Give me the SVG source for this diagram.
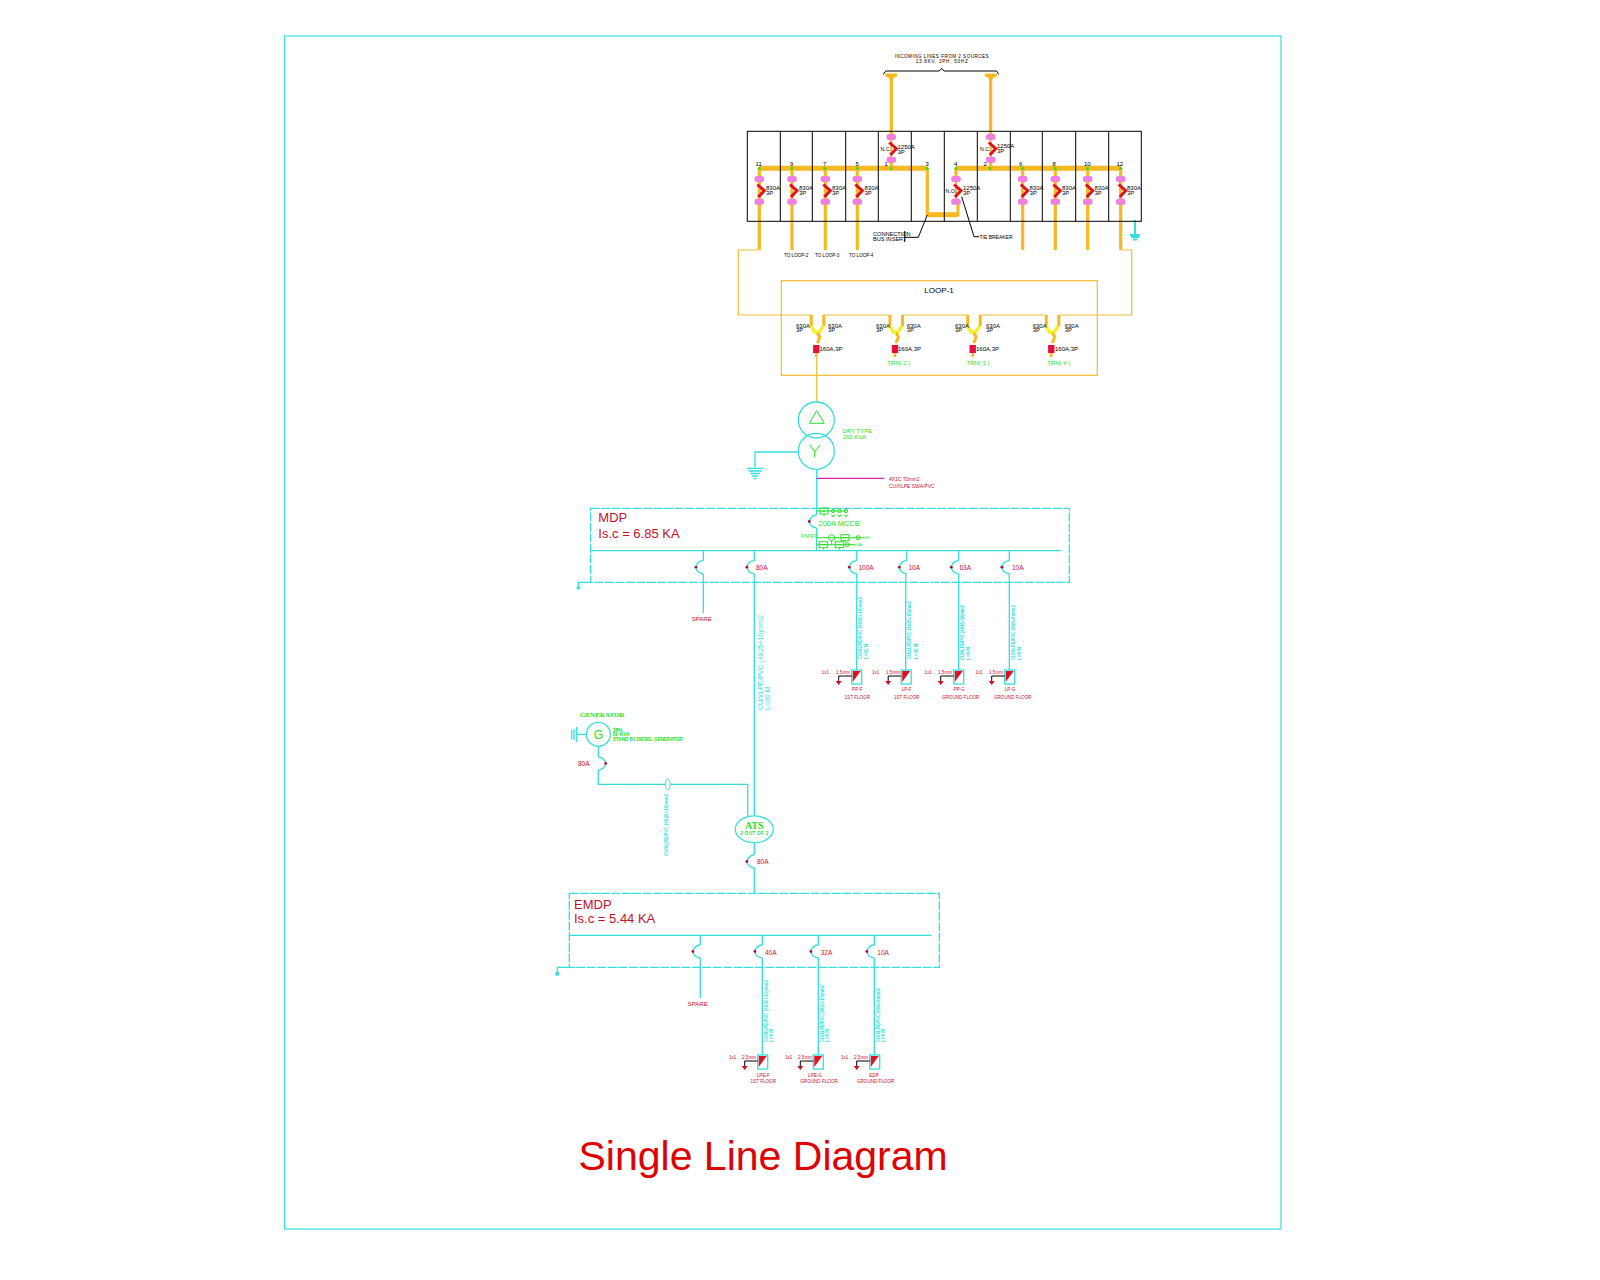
<svg xmlns="http://www.w3.org/2000/svg" width="1600" height="1280" viewBox="0 0 1600 1280">
<style>
text{font-family:"Liberation Sans",Arial,sans-serif;white-space:pre}
.c{fill:none;stroke:#35dede;stroke-width:1.3}
.d{fill:none;stroke:#35dede;stroke-width:1.3;stroke-dasharray:9 1.5}
.o{fill:none;stroke:#f5b921;stroke-width:3.2}
.ot{fill:none;stroke:#f0bc30;stroke-width:1.2}
.k{fill:none;stroke:#000;stroke-width:1}
.g{fill:none;stroke:#22e022;stroke-width:1}
.bk{fill:#000;font-size:6px}
.bs{fill:#000;font-size:4.6px}
.rd{fill:#c8102e;font-size:6.5px}
.rs{fill:#c8102e;font-size:4.6px}
.gr{fill:#22e022;font-size:6px}
.cy{fill:#35dede;font-size:4.5px;font-weight:bold}
.big{fill:#c8102e;font-size:13px}
.m{text-anchor:middle}
</style>
<defs>
<g id="mvb">
<path d="M0,0V23" fill="none" stroke="#f5b921" stroke-width="2"/>
<rect x="-4.8" y="-3" width="9.6" height="6" rx="2.5" fill="#f080e0"/>
<rect x="-4.8" y="19.7" width="9.6" height="6" rx="2.5" fill="#f080e0"/>
<path d="M-2,5.5L5,11.7L-1,18" fill="none" stroke="#e01020" stroke-width="3"/>
</g>
<g id="capY"><path d="M-6,-2H6M-5,-2Q-1,-1 0,2Q1,-1 5,-2" fill="none" stroke="#f5b921" stroke-width="3"/></g>
<g id="rmu">
<path d="M-6,0V11M6.5,0V11" fill="none" stroke="#f5b921" stroke-width="3"/>
<path d="M-6,11L-3,17H2L6,11" fill="none" stroke="#f8ee30" stroke-width="3.4"/>
<path d="M0,18L2.5,22L0,28" fill="none" stroke="#f5b921" stroke-width="3"/>
<rect x="-4.2" y="30" width="6.4" height="8" fill="#e8103a"/>
<path d="M-1,38V42" fill="none" stroke="#f5b921" stroke-width="2.5"/>
</g>
<g id="arcL"><path class="c" d="M0,0A7.2,6.5 0 0 0 0,13"/><circle cx="-7.4" cy="6.5" r="1.4" fill="#a01040"/></g>
<g id="arcR"><path class="c" d="M0,0A7.2,6.5 0 0 1 0,13"/><circle cx="7.4" cy="6.5" r="1.4" fill="#c01030"/></g>
<g id="pnl">
<path d="M1,1H9L1,12Z" fill="#e01020"/>
<rect x="0" y="0" width="10" height="14" class="c"/>
<path class="k" d="M0,6H-13V11"/>
<path d="M-16,11H-10L-13,15Z" fill="#d01020"/>
</g>
<g id="grnBox"><rect x="-4" y="-3" width="8" height="6" class="g"/><path class="g" d="M-2,0H2M0,3V5"/></g>
<g id="gTop"><circle cx="0" cy="0" r="1.6" class="g"/><path class="g" d="M-1.5,3.5L0,6L1.5,3.5"/></g>
</defs>

<g id="frame"><rect x="284.5" y="36" width="996.5" height="1193" fill="none" stroke="#35dede" stroke-width="1.2"/></g>

<g id="connectors">
<path class="o" d="M891.3,76V137M990.7,76V137"/>
<path d="M759,168.3H927.3M956,168.3H1121" fill="none" stroke="#f5b921" stroke-width="5"/>
<path class="o" d="M927.3,168V214.7H958V201" stroke-width="3.4"/>
<path d="M928,214.7H958" fill="none" stroke="#f5b921" stroke-width="5"/>
<path class="o" d="M759.3,168V250M792,168V250M825.3,168V250M857.3,168V250M1022.7,168V250M1055.3,168V250M1087.7,168V250M1120.7,168V250M956,168V180M891.3,160V168M990.7,160V168"/>
<path class="ot" d="M759.3,250H738.3V315H811.3M823.3,315H889.3M902.7,315H967.3M980,315H1046M1058.7,315H1131.7V250H1120.7M816.7,357V402"/>
<path class="k" d="M904.7,231V242M904.7,237.3H918.3L927.3,215"/>
<path class="k" d="M961.7,196.7L974,236.7H979"/>
<path d="M1135,220V236" fill="none" stroke="#35dede" stroke-width="2"/>
<path class="c" d="M798.3,452H755V467.3"/>
<path class="c" d="M816.7,469.3V515M816.7,528V550.7"/>
<path d="M816.7,478.3H884" fill="none" stroke="#d020c0" stroke-width="1.2"/>
<path class="c" d="M703.3,550.7V560.7M703.3,573.7V613.3"/>
<path class="c" d="M754.3,550.7V560.7M754.3,573.7V816"/>
<path class="c" d="M856.7,550.7V560.7M856.7,573.7V670"/>
<path class="c" d="M906.7,550.7V560.7M905.7,573.7V670"/>
<path class="c" d="M958.7,550.7V560.7M958.7,573.7V670"/>
<path class="c" d="M1009.3,550.7V560.7M1009.3,573.7V670"/>
<path class="c" d="M590.7,582.3H578.3V587"/>
<path class="c" d="M586,734.3H576.7M571.7,730V739M574,729V740M576.7,727V742"/>
<path class="c" d="M598.3,746.5V757M598.3,770V784.3H747.7V816.7"/>
<path class="c" d="M754.3,842.7V855M754.3,868V893.3"/>
<path class="c" d="M700.3,935.3V945M700.3,958V998.3"/>
<path class="c" d="M762.3,935.3V945M762.3,958V1055"/>
<path class="c" d="M818.3,935.3V945M818.3,958V1055"/>
<path class="c" d="M874.3,935.3V945M874.3,958V1055"/>
<path class="c" d="M569.3,967.3H557.3V972"/>
</g>

<g id="switchgear">
<rect x="747.3" y="131.3" width="394" height="90" fill="none" stroke="#000" stroke-width="1"/>
<path class="k" d="M780.3,131.3V221.3M812.3,131.3V221.3M845.7,131.3V221.3M878.3,131.3V221.3M911.3,131.3V221.3M944.3,131.3V221.3M977.3,131.3V221.3M1010.3,131.3V221.3M1042.3,131.3V221.3M1075.7,131.3V221.3M1108.7,131.3V221.3"/>
<use href="#capY" x="891.3" y="77"/><use href="#capY" x="990.7" y="77"/>
<path class="k" d="M883.3,74.3L885.7,71H939.3L941.7,68.3L944,71H996.7L998.7,74.3" stroke-width=".8"/>
<text class="bs m" x="941.7" y="57.5" textLength="94">INCOMING LINES FROM 2 SOURCES</text>
<text class="bs m" x="941.7" y="62.5" textLength="52">13.8KV, 3PH, 50HZ</text>
<g class="bk">
<text x="755.5" y="165.5">11</text><text x="790" y="165.5">9</text><text x="823" y="165.5">7</text><text x="855.5" y="165.5">5</text><text x="884.5" y="165.5">1</text><text x="925.5" y="165.5">3</text><text x="954" y="165.5">4</text><text x="983.5" y="165.5">2</text><text x="1019" y="165.5">6</text><text x="1052.5" y="165.5">8</text><text x="1084" y="165.5">10</text><text x="1116.5" y="165.5">12</text>
</g>
<g fill="#22e022"><circle cx="759.3" cy="168.3" r="1.4"/><circle cx="792" cy="168.3" r="1.4"/><circle cx="825" cy="168.3" r="1.4"/><circle cx="857.3" cy="168.3" r="1.4"/><circle cx="891" cy="168.3" r="1.4"/><circle cx="927.3" cy="168.3" r="1.4"/><circle cx="956" cy="168.3" r="1.4"/><circle cx="990" cy="168.3" r="1.4"/><circle cx="1022.7" cy="168.3" r="1.4"/><circle cx="1055.3" cy="168.3" r="1.4"/><circle cx="1087.7" cy="168.3" r="1.4"/><circle cx="1120.7" cy="168.3" r="1.4"/></g>
<use href="#mvb" x="759.3" y="179"/><use href="#mvb" x="792" y="179"/><use href="#mvb" x="825.3" y="179"/><use href="#mvb" x="857.3" y="179"/>
<use href="#mvb" x="956" y="179"/><use href="#mvb" x="1022.7" y="179"/><use href="#mvb" x="1055.3" y="179"/><use href="#mvb" x="1087.7" y="179"/><use href="#mvb" x="1120.7" y="179"/>
<use href="#mvb" x="891.3" y="137"/><use href="#mvb" x="990.7" y="137"/>
<g class="bk">
<text x="766" y="190">830A</text><text x="766" y="194.5">3P</text>
<text x="799" y="190">830A</text><text x="799" y="194.5">3P</text>
<text x="832" y="190">830A</text><text x="832" y="194.5">3P</text>
<text x="864.5" y="190">830A</text><text x="864.5" y="194.5">3P</text>
<text x="1029.5" y="190">830A</text><text x="1029.5" y="194.5">3P</text>
<text x="1062" y="190">830A</text><text x="1062" y="194.5">3P</text>
<text x="1094.5" y="190">830A</text><text x="1094.5" y="194.5">3P</text>
<text x="1127" y="190">830A</text><text x="1127" y="194.5">3P</text>
<text x="963" y="190">1250A</text><text x="963" y="194.5">3P</text>
<text x="945.5" y="193" style="font-size:5.2px">N.O.</text>
<text x="897.5" y="149">1250A</text><text x="897.5" y="153.5">3P</text>
<text x="880.5" y="151" style="font-size:5.2px">N.C.</text>
<text x="997" y="148">1250A</text><text x="997" y="152.5">3P</text>
<text x="980" y="151" style="font-size:5.2px">N.C.</text>
</g>
<text class="bk" x="873" y="236" style="font-size:5.6px">CONNECTION</text>
<text class="bk" x="873" y="241" style="font-size:5.6px">BUS INSERT</text>
<text class="bk" x="979.5" y="239" style="font-size:5px">TIE BREAKER</text>
<text class="bs" x="784" y="256.5">TO LOOP-2</text><text class="bs" x="815" y="256.5">TO LOOP-3</text><text class="bs" x="849" y="256.5">TO LOOP-4</text>
<path d="M1130,235H1140M1131,237H1139M1133,239.5H1137" fill="none" stroke="#35dede" stroke-width="2"/>
</g>

<g id="loop1">
<rect x="781.3" y="280.7" width="316" height="94.6" class="ot"/>
<text class="m" x="939" y="293" style="font-size:8px;fill:#000">LOOP-1</text>
<use href="#rmu" x="817.3" y="315"/><use href="#rmu" x="896" y="315"/><use href="#rmu" x="973.7" y="315"/><use href="#rmu" x="1052.3" y="315"/>
<g class="bk">
<text x="796" y="328">630A</text><text x="796" y="332">3P</text><text x="828" y="328">630A</text><text x="828" y="332">3P</text><text x="819.5" y="351">160A,3P</text>
<text x="876" y="328">630A</text><text x="876" y="332">3P</text><text x="906.7" y="328">630A</text><text x="906.7" y="332">3P</text><text x="898" y="351">160A,3P</text>
<text x="955" y="328">630A</text><text x="955" y="332">3P</text><text x="986" y="328">630A</text><text x="986" y="332">3P</text><text x="976" y="351">160A,3P</text>
<text x="1032.7" y="328">630A</text><text x="1032.7" y="332">3P</text><text x="1064.7" y="328">630A</text><text x="1064.7" y="332">3P</text><text x="1055" y="351">160A,3P</text>
</g>
<text class="gr m" x="898.7" y="365">TRN( 2 )</text><text class="gr m" x="978" y="365">TRN( 3 )</text><text class="gr m" x="1058.7" y="365">TRN( 4 )</text>
</g>

<g id="transformer">
<circle cx="816.3" cy="420" r="18" class="c"/><circle cx="816.3" cy="451.3" r="18" class="c"/>
<path class="g" d="M816.7,410.7L809.3,423.3H824.3Z"/>
<path class="g" d="M810,445L814.7,451.7L820,445M814.7,451.7V457.3"/>
<text class="gr" x="842.7" y="432.5">DRY TYPE</text><text class="gr" x="842.7" y="438.7">160 KVA</text>
<path class="c" d="M747,468.3H763.7M748.5,471H762M750.5,473.5H760M752,476H758M753.5,478.5H756.5"/>
<text class="rs" x="889" y="481" style="font-size:5px">4X1C 70mm2</text><text class="rs" x="889" y="487.5" style="font-size:5px">CU/XLPE SWA/PVC</text>
</g>

<g id="mdp">
<rect x="590.7" y="508.3" width="478.6" height="74" class="d"/>
<path class="c" d="M590.7,550.7H1060.7"/>
<text class="big" x="598.3" y="521.7">MDP</text><text class="big" x="598.3" y="538.3">Is.c = 6.85 KA</text>
<use href="#arcL" x="816.7" y="515"/>
<text x="818.5" y="526" style="font-size:7.5px;fill:#22e022">200A MCCB</text>
<path class="g" d="M816.7,511H846M816.7,537.7H863M816.7,544.7H855"/>
<use href="#gTop" x="833" y="511"/><use href="#gTop" x="839.5" y="511"/><use href="#gTop" x="846" y="511"/>
<use href="#grnBox" x="824" y="511"/><use href="#grnBox" x="845" y="537.7"/><use href="#grnBox" x="823.3" y="544.7"/><use href="#grnBox" x="839.3" y="544.7"/>
<circle cx="831.7" cy="537.7" r="3" class="g"/><circle cx="858" cy="537.7" r="2" class="g"/><circle cx="847.3" cy="544.7" r="2" class="g"/>
<path class="g" d="M831.7,540.7V544.7"/>
<text x="801" y="538" style="font-size:4.5px;fill:#22e022">P/M/R/C</text>
<text x="863" y="539" style="font-size:3.6px;fill:#22e022">kWh</text>
<text x="855" y="546" style="font-size:3.6px;fill:#22e022">kVAr</text>
<path d="M575.8,587H580.8L578.3,590Z" fill="#35dede"/>
</g>

<g id="mdp-spare"><use href="#arcL" x="703.3" y="560.7"/><text class="rs m" x="701.7" y="621" style="font-size:6px">SPARE</text></g>
<g id="mdp-80a"><use href="#arcL" x="754.3" y="560.7"/><text class="rd" x="756" y="570">80A</text>
<text class="cy" transform="translate(763,710) rotate(-90)" style="font-size:7.2px;font-weight:normal" textLength="95">CU/XLPE/PVC (4X25+16)mm2</text>
<text class="cy" transform="translate(770,710) rotate(-90)" style="font-size:7px;font-weight:normal">L=30 M</text></g>
<g id="feeder-pp-f"><use href="#arcL" x="856.7" y="560.7"/><text class="rd" x="858.5" y="570">100A</text>
<text class="cy" transform="translate(862,659) rotate(-90)" textLength="62">CU/XLPE/PVC (4X50+16)mm2</text><text class="cy" transform="translate(868,659) rotate(-90)">L=50 M</text>
<use href="#pnl" x="851.7" y="670"/><text class="rs" x="836" y="674">1.5mm</text><text class="rs" x="821.7" y="674">1x1</text>
<text class="rs m" x="857.3" y="690.5">PP-F</text><text class="rs m" x="857.3" y="698.5">1ST FLOOR</text></g>
<g id="feeder-lp-f"><use href="#arcL" x="906.7" y="560.7"/><text class="rd" x="908.5" y="570">10A</text>
<text class="cy" transform="translate(911,659) rotate(-90)" textLength="58">CU/XLPE/PVC (4X25+16)mm2</text><text class="cy" transform="translate(917.5,659) rotate(-90)">L=35 M</text>
<use href="#pnl" x="901.2" y="670"/><text class="rs" x="886" y="674">1.5mm</text><text class="rs" x="872" y="674">1x1</text>
<text class="rs m" x="906.7" y="690.5">LP-F</text><text class="rs m" x="906.7" y="698.5">1ST FLOOR</text></g>
<g id="feeder-pp-g"><use href="#arcL" x="958.7" y="560.7"/><text class="rd" x="959.5" y="570">63A</text>
<text class="cy" transform="translate(964,660) rotate(-90)" textLength="55">CU/XLPE/PVC (4X16+16)mm2</text><text class="cy" transform="translate(969.5,660) rotate(-90)">L=8 M</text>
<use href="#pnl" x="953.7" y="670"/><text class="rs" x="938" y="674">1.5mm</text><text class="rs" x="924.5" y="674">1x1</text>
<text class="rs m" x="959.3" y="690.5">PP-G</text><text class="rs m" x="960.7" y="698.5">GROUND FLOOR</text></g>
<g id="feeder-lp-g"><use href="#arcL" x="1009.3" y="560.7"/><text class="rd" x="1012" y="570">10A</text>
<text class="cy" transform="translate(1015,660) rotate(-90)" textLength="55">CU/XLPE/PVC (4X6+6)mm2</text><text class="cy" transform="translate(1021,660) rotate(-90)">L=8 M</text>
<use href="#pnl" x="1004.7" y="670"/><text class="rs" x="989" y="674">1.5mm</text><text class="rs" x="975.5" y="674">1x1</text>
<text class="rs m" x="1010" y="690.5">LP-G</text><text class="rs m" x="1012.7" y="698.5">GROUND FLOOR</text></g>

<g id="generator">
<circle cx="598.3" cy="734.3" r="12" class="c"/>
<text class="m" x="598.3" y="738.5" style="font-size:12px;fill:#22e022">G</text>
<text x="580" y="716.7" style="font-size:7px;fill:#22e022;font-weight:bold;font-family:'Liberation Serif',serif">GENERATOR</text>
<g style="font-weight:bold"><text class="gr" x="612.7" y="731.5" style="font-size:5px">3PH</text><text class="gr" x="612.7" y="736" style="font-size:5px">60 KVA</text><text class="gr" x="612.7" y="740.5" style="font-size:4.8px" textLength="70">STAND BY DIESEL GENERATOR</text></g>
<use href="#arcR" x="598.3" y="757"/><text class="rd" x="578" y="766">80A</text>
<ellipse cx="667.7" cy="784.3" rx="2.4" ry="5.5" fill="#fff" stroke="#35dede" stroke-width="1"/>
<text class="cy" transform="translate(667.5,856) rotate(-90)" textLength="62">CU/XLPE/PVC (4X25+16)mm2</text>
</g>

<g id="ats">
<ellipse cx="754.3" cy="829.3" rx="19" ry="13.4" class="c" style="fill:#fff"/>
<text class="m" x="754.3" y="829" style="font-size:10px;fill:#22e022;font-weight:bold;font-family:'Liberation Serif',serif">ATS</text>
<text class="gr m" x="754.3" y="835" style="font-size:4.6px;font-weight:bold" textLength="28">2 OUT OF 2</text>
<use href="#arcL" x="754.3" y="855"/><text class="rd" x="757" y="864">80A</text>
</g>

<g id="emdp">
<rect x="569.3" y="893.3" width="370" height="74" class="d"/>
<path class="c" d="M569.3,935.3H931.6"/>
<text class="big" x="574" y="909.3">EMDP</text><text class="big" x="574" y="923.3">Is.c = 5.44 KA</text>
<rect x="555.5" y="972" width="3.6" height="3.6" fill="#35dede"/>
</g>
<g id="emdp-spare"><use href="#arcL" x="700.3" y="945"/><text class="rs m" x="697.7" y="1006" style="font-size:6px">SPARE</text></g>
<g id="feeder-lpe-f"><use href="#arcL" x="762.3" y="945"/><text class="rd" x="765" y="955">40A</text>
<text class="cy" transform="translate(767.7,1042) rotate(-90)" textLength="62">CU/XLPE/PVC (4X10+10)mm2</text><text class="cy" transform="translate(773,1042) rotate(-90)">L=8 M</text>
<use href="#pnl" x="757.7" y="1055"/><text class="rs" x="742" y="1059">2.5mm</text><text class="rs" x="729" y="1059">1x1</text>
<text class="rs m" x="763.3" y="1076.5">LPE-F</text><text class="rs m" x="763.3" y="1083">1ST FLOOR</text></g>
<g id="feeder-lpe-g"><use href="#arcL" x="818.3" y="945"/><text class="rd" x="820.7" y="955">32A</text>
<text class="cy" transform="translate(823.7,1042) rotate(-90)" textLength="57">CU/XLPE/PVC (4X10+10)mm2</text><text class="cy" transform="translate(829,1042) rotate(-90)">L=8 M</text>
<use href="#pnl" x="813.3" y="1055"/><text class="rs" x="798" y="1059">2.5mm</text><text class="rs" x="785" y="1059">1x1</text>
<text class="rs m" x="815" y="1076.5">LPE-G</text><text class="rs m" x="819" y="1083">GROUND FLOOR</text></g>
<g id="feeder-edp"><use href="#arcL" x="874.3" y="945"/><text class="rd" x="877.3" y="955">10A</text>
<text class="cy" transform="translate(879.7,1042) rotate(-90)" textLength="54">CU/XLPE/PVC (4X6+6)mm2</text><text class="cy" transform="translate(885,1042) rotate(-90)">L=8 M</text>
<use href="#pnl" x="869.7" y="1055"/><text class="rs" x="854" y="1059">2.5mm</text><text class="rs" x="841" y="1059">1x1</text>
<text class="rs m" x="874" y="1076.5">EDP</text><text class="rs m" x="875.7" y="1083">GROUND FLOOR</text></g>

<text id="title" x="578.5" y="1170" style="font-size:41px;fill:#e00000">Single Line Diagram</text>
</svg>
